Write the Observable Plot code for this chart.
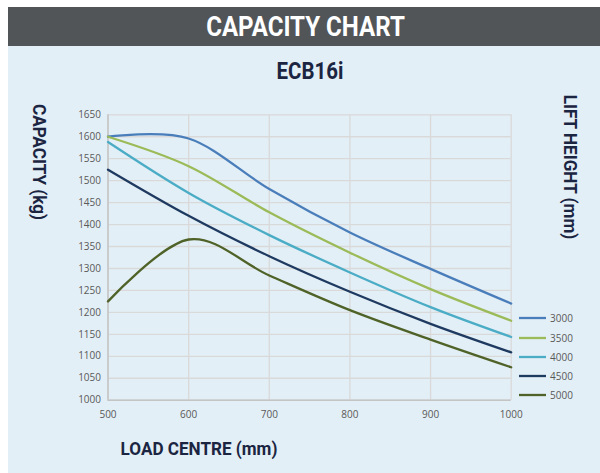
<!DOCTYPE html>
<html>
<head>
<meta charset="utf-8">
<script src="https://cdn.jsdelivr.net/npm/d3@7"></script>
<script src="https://cdn.jsdelivr.net/npm/@observablehq/plot@0.6"></script>
<style>
  html, body { margin: 0; padding: 0; background: #ffffff; }
  body { width: 600px; height: 473px; position: relative; overflow: hidden; }
  .hdr { position: absolute; left: 8px; top: 7px; width: 592px; height: 39px; background: #515558;
         display: flex; align-items: center; justify-content: center; }
  .hdr span { display: inline-block; color: #ffffff; font: bold 28px "Roboto", sans-serif; line-height: 1;
              transform: translateX(2px) scaleX(0.86); white-space: nowrap; }
  .panel { position: absolute; left: 8px; top: 46px; width: 592px; height: 427px; background: #e3eff6; }
  .ttl { position: absolute; white-space: nowrap; color: #1b2542; font-weight: bold;
         font-family: "Roboto", sans-serif; line-height: 1; }
  #chart { position: absolute; left: 0; top: 100px; }
  #legend { position: absolute; left: 519px; top: 308.7px; font: 10px "Open Sans", sans-serif; color: #595959; }
  .lrow { display: flex; align-items: center; height: 19.25px; }
  .lrow svg { display: block; margin-right: 4px; }
</style>
</head>
<body>
<div class="panel"></div>
<div class="hdr"><span>CAPACITY CHART</span></div>
<div class="ttl" style="font-size:23.5px; left:310px; top:60px; transform:translateX(-50%) scaleX(0.87);">ECB16i</div>
<div class="ttl" style="font-size:19px; left:38.5px; top:161.5px; transform:translate(-50%,-50%) rotate(90deg) scaleX(0.9);">CAPACITY (kg)</div>
<div class="ttl" style="font-size:19px; left:570px; top:167px; transform:translate(-50%,-50%) rotate(90deg) scaleX(0.9);">LIFT HEIGHT (mm)</div>
<div class="ttl" style="font-size:19px; left:198.5px; top:439px; transform:translateX(-50%) scaleX(0.9);">LOAD CENTRE (mm)</div>
<div id="chart"></div>
<div id="legend"></div>
<script>
// ---- data ----
const loadCentres = [500, 600, 700, 800, 900, 1000];
const liftHeights = ["3000", "3500", "4000", "4500", "5000"];
const cap3000 = [1600, 1596, 1481, 1382, 1299, 1220];
const cap3500 = [1600, 1533, 1428, 1336, 1253, 1181];
const cap4000 = [1588, 1472, 1376, 1291, 1212, 1144];
const cap4500 = [1525, 1420, 1328, 1247, 1174, 1109];
const cap5000 = [1225, 1366, 1284, 1205, 1138, 1075];
const seriesColors = ["#4a7ebb", "#9bbb59", "#4bacc6", "#1f3a60", "#4f6228"];
const xTicks = [500, 600, 700, 800, 900, 1000];
const yTicks = [1000, 1050, 1100, 1150, 1200, 1250, 1300, 1350, 1400, 1450, 1500, 1550, 1600, 1650];

const capacities = [cap3000, cap3500, cap4000, cap4500, cap5000];
const rows = [];
liftHeights.forEach((h, i) => {
  loadCentres.forEach((x, j) => rows.push({series: h, load: x, cap: capacities[i][j]}));
});

const chart = Plot.plot({
  width: 600,
  height: 330,
  marginLeft: 107.5,
  marginRight: 89.3,
  marginTop: 14.3,
  marginBottom: 30.3,
  style: {background: "transparent", fontFamily: "'Open Sans', sans-serif", fontSize: "10px", color: "#595959"},
  x: {domain: [500, 1000]},
  y: {domain: [1000, 1650]},
  color: {domain: liftHeights, range: seriesColors},
  marks: [
    Plot.gridX(xTicks, {stroke: "#d9d9d9", strokeOpacity: 1, strokeWidth: 1.3}),
    Plot.gridY(yTicks, {stroke: "#d9d9d9", strokeOpacity: 1, strokeWidth: 1.3}),
    Plot.ruleX([500], {stroke: "#c4c4c4", strokeWidth: 1.5}),
    Plot.ruleY([1000], {stroke: "#c4c4c4", strokeWidth: 1.5}),
    Plot.axisX(xTicks, {tickSize: 0, tickPadding: 11, label: null, tickFormat: d => String(d)}),
    Plot.axisY(yTicks, {tickSize: 0, tickPadding: 7, label: null, tickFormat: d => String(d)}),
    Plot.line(rows, {x: "load", y: "cap", z: "series", stroke: "series", curve: "cardinal", strokeWidth: 2.3})
  ]
});
document.getElementById("chart").appendChild(chart);

// legend
const legend = document.getElementById("legend");
liftHeights.forEach((h, i) => {
  const row = document.createElement("div");
  row.className = "lrow";
  row.innerHTML = `<svg width="27" height="4"><line x1="0" x2="27" y1="2" y2="2" stroke="${seriesColors[i]}" stroke-width="2.3"/></svg><span>${h}</span>`;
  legend.appendChild(row);
});
</script>
</body>
</html>
